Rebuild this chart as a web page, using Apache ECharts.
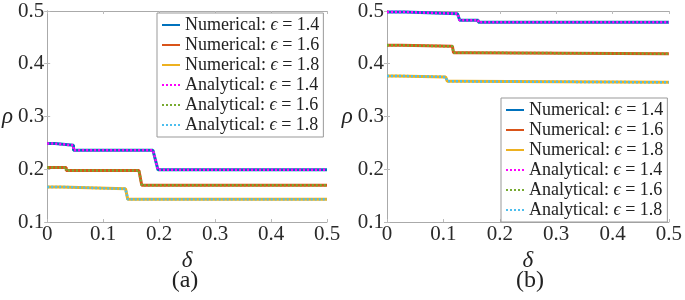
<!DOCTYPE html>
<html>
<head>
<meta charset="utf-8">
<script src="https://cdn.jsdelivr.net/npm/echarts@6/dist/echarts.min.js"></script>
<style>
  html, body { margin: 0; padding: 0; background: #fff; }
  #main { width: 685px; height: 300px; }
</style>
</head>
<body>
<div id="main"></div>
<script>
// step curves: x = delta, y = rho
var aX14 = [0, 0.014, 0.014, 0.047, 0.047, 0.189, 0.198, 0.5];
var aY14 = [0.2486, 0.2486, 0.2454, 0.2454, 0.2359, 0.2359, 0.199, 0.199];
var aX16 = [0, 0.034, 0.034, 0.164, 0.169, 0.5];
var aY16 = [0.2035, 0.2035, 0.1974, 0.1974, 0.1695, 0.1695];
var aX18 = [0, 0.024, 0.024, 0.140, 0.144, 0.5];
var aY18 = [0.1665, 0.1665, 0.1628, 0.1628, 0.143, 0.143];

var bX14 = [0, 0.032, 0.032, 0.125, 0.129, 0.162, 0.162, 0.5];
var bY14 = [0.498, 0.498, 0.495, 0.495, 0.4824, 0.4824, 0.4786, 0.4786];
var bX16 = [0, 0.0245, 0.0245, 0.116, 0.118, 0.142, 0.142, 0.5];
var bY16 = [0.435, 0.435, 0.433, 0.433, 0.421, 0.421, 0.419, 0.419];
var bX18 = [0, 0.0175, 0.0175, 0.104, 0.107, 0.124, 0.124, 0.5];
var bY18 = [0.377, 0.377, 0.375, 0.375, 0.3667, 0.3667, 0.3648, 0.3648];

var names = ['Numerical: ϵ = 1.4', 'Numerical: ϵ = 1.6', 'Numerical: ϵ = 1.8',
             'Analytical: ϵ = 1.4', 'Analytical: ϵ = 1.6', 'Analytical: ϵ = 1.8'];
var numColors = ['#0072BD', '#D95319', '#EDB120'];
var anaColors = ['#FF00FF', '#77AC30', '#4DBEEE'];
var yTicks = [0.1, 0.5, 0.1]; // min, max, step
var xTicks = [0, 0.5, 0.1];

var serif = 'Liberation Serif';
var frame = { show: true, lineStyle: { color: '#aaa', width: 1 } };
var tick = { inside: true, length: 3, lineStyle: { color: '#bbb' } };
var chart = echarts.init(document.getElementById('main'));

function pairs(xs, ys) {
  return xs.map(function (x, i) { return [x, ys[i]]; });
}

function makeSeries(idx, curves) {
  var out = [];
  curves.forEach(function (c, k) {
    out.push({
      name: names[k], type: 'line', xAxisIndex: idx * 2, yAxisIndex: idx * 2,
      data: pairs(c[0], c[1]), symbol: 'none', z: 2,
      lineStyle: { color: numColors[k], width: 3 }, itemStyle: { color: numColors[k] }
    });
  });
  curves.forEach(function (c, k) {
    out.push({
      name: names[k + 3], type: 'line', xAxisIndex: idx * 2, yAxisIndex: idx * 2,
      data: pairs(c[0], c[1]), symbol: 'none', z: 3,
      lineStyle: { color: anaColors[k], width: 2.5, type: [2, 2] }, itemStyle: { color: anaColors[k] }
    });
  });
  return out;
}

function xAx(idx) {
  return [{
    type: 'value', gridIndex: idx, min: xTicks[0], max: xTicks[1], interval: xTicks[2],
    name: 'δ', nameLocation: 'middle', nameGap: 12,
    nameTextStyle: { fontFamily: serif, fontSize: 23, fontStyle: 'italic', color: '#222' },
    axisLine: frame, splitLine: { show: false }, axisTick: tick,
    axisLabel: { fontFamily: serif, fontSize: 21, color: '#2a2a2a', margin: 2 }
  }, {
    type: 'value', gridIndex: idx, position: 'top', min: xTicks[0], max: xTicks[1], interval: xTicks[2],
    axisLine: frame, splitLine: { show: false }, axisTick: tick, axisLabel: { show: false }
  }];
}
function yAx(idx) {
  return [{
    type: 'value', gridIndex: idx, min: yTicks[0], max: yTicks[1], interval: yTicks[2],
    name: 'ρ', nameLocation: 'middle', nameRotate: 0, nameGap: 34,
    nameTextStyle: { fontFamily: serif, fontSize: 23, fontStyle: 'italic', color: '#222' },
    axisLine: frame, splitLine: { show: false }, axisTick: tick,
    axisLabel: { fontFamily: serif, fontSize: 21, color: '#2a2a2a', margin: 3 }
  }, {
    type: 'value', gridIndex: idx, position: 'right', min: yTicks[0], max: yTicks[1], interval: yTicks[2],
    axisLine: frame, splitLine: { show: false }, axisTick: tick, axisLabel: { show: false }
  }];
}
function legend(left, top) {
  return {
    orient: 'vertical', left: left, top: top, data: names,
    itemWidth: 18, itemHeight: 12, itemGap: 2,
    padding: [3, 4, 3, 4], backgroundColor: '#fff',
    borderColor: '#999', borderWidth: 1, borderRadius: 0,
    itemStyle: { opacity: 0 },
    formatter: function (n) {
      var p = n.split('ϵ');
      return p[0] + '{e|ϵ}' + p[1];
    },
    textStyle: {
      fontFamily: serif, fontSize: 18, color: '#222', lineHeight: 16,
      rich: { e: { fontFamily: serif, fontStyle: 'italic', fontSize: 18, color: '#222', lineHeight: 16 } }
    }
  };
}

chart.setOption({
  animation: false,
  grid: [
    { left: 43, top: 11, width: 284, height: 211 },
    { left: 387, top: 11, width: 286, height: 211 }
  ],
  xAxis: xAx(0).concat(xAx(1)),
  yAxis: yAx(0).concat(yAx(1)),
  legend: [legend(157, 13), legend(501, 98)],
  series: makeSeries(0, [[aX14, aY14], [aX16, aY16], [aX18, aY18]])
    .concat(makeSeries(1, [[bX14, bY14], [bX16, bY16], [bX18, bY18]])),
  graphic: [
    { type: 'text', x: 185, y: 281, style: { text: '(a)', font: '24px ' + serif, fill: '#222', align: 'center', verticalAlign: 'middle' } },
    { type: 'text', x: 530, y: 281, style: { text: '(b)', font: '24px ' + serif, fill: '#222', align: 'center', verticalAlign: 'middle' } }
  ]
});
</script>
</body>
</html>
